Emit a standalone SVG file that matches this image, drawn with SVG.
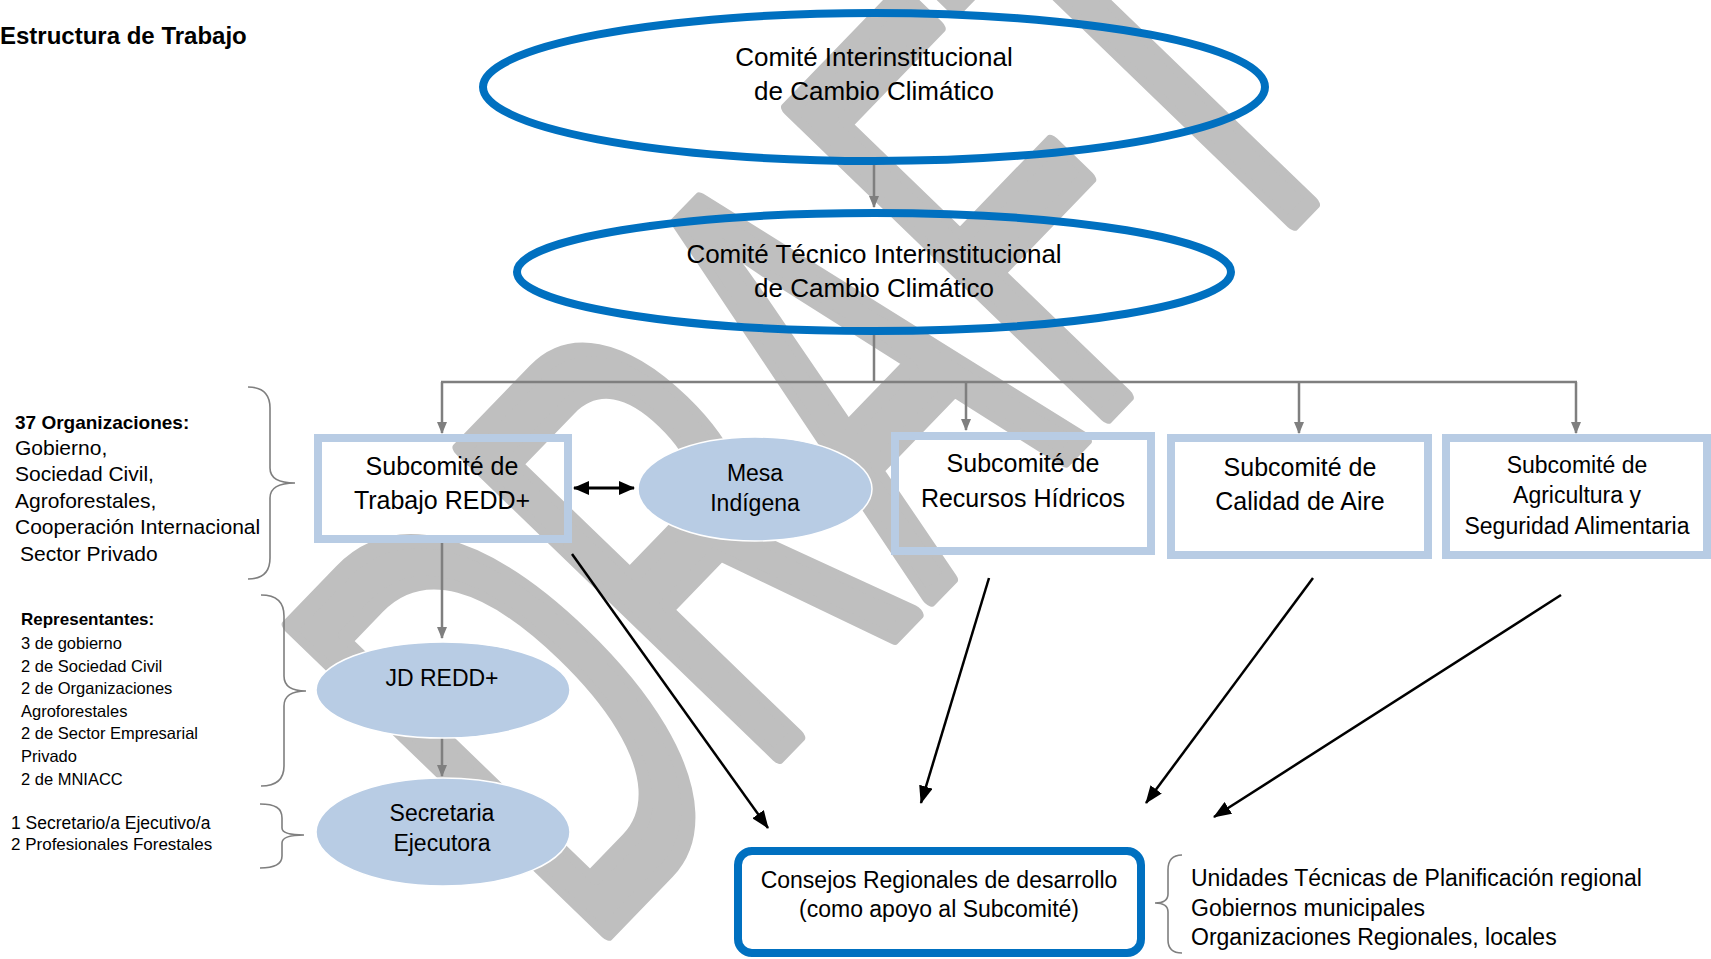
<svg xmlns="http://www.w3.org/2000/svg" width="1711" height="959" viewBox="0 0 1711 959">
<style>
.t{font-family:"Liberation Sans",Arial,sans-serif;fill:#000;dominant-baseline:central}
.c{text-anchor:middle}
.b{font-weight:bold}
.ring{fill:none;stroke:#0070C0;stroke-width:8}
.box{fill:none;stroke:#B8CCE4;stroke-width:8}
.oval{fill:#B8CCE4;stroke:#fff;stroke-width:1.5}
.g{stroke:#7F7F7F;stroke-width:2.5;fill:none}
.k{stroke:#000;stroke-width:2.5;fill:none}
.br{stroke:#7F7F7F;stroke-width:1.6;fill:none}
</style>
<defs>
<marker id="ag" markerWidth="12" markerHeight="10" refX="11" refY="5" orient="auto" markerUnits="userSpaceOnUse"><path d="M0,0 L12,5 L0,10 z" fill="#7F7F7F"/></marker>
<marker id="ak" markerWidth="18" markerHeight="14" refX="17" refY="7" orient="auto" markerUnits="userSpaceOnUse"><path d="M0,0 L18,7 L0,14 z" fill="#000"/></marker>
<marker id="ad" markerWidth="16" markerHeight="14" refX="15" refY="7" orient="auto-start-reverse" markerUnits="userSpaceOnUse"><path d="M0,0 L16,7 L0,14 z" fill="#000"/></marker>
</defs>
<rect width="1711" height="959" fill="#fff"/>
<g id="watermark">
<text x="0" y="0" transform="translate(586,954) rotate(-46) scale(0.532,1)" font-family="Liberation Sans, Arial, sans-serif" font-size="640" fill="#BFBFBF" stroke="#BFBFBF" stroke-width="14" stroke-linejoin="round" vector-effect="non-scaling-stroke">DRAFT</text>
</g>
<text class="t b" x="0" y="35" font-size="24">Estructura de Trabajo</text>
<g id="connectors">
<line class="g" x1="874" y1="165" x2="874" y2="207" marker-end="url(#ag)"/>
<polyline class="g" points="874,332 874,382"/>
<line class="g" x1="441" y1="382" x2="1577" y2="382"/>
<line class="g" x1="442" y1="382" x2="442" y2="433" marker-end="url(#ag)"/>
<line class="g" x1="966" y1="382" x2="966" y2="430" marker-end="url(#ag)"/>
<line class="g" x1="1299" y1="382" x2="1299" y2="433" marker-end="url(#ag)"/>
<line class="g" x1="1576" y1="382" x2="1576" y2="433" marker-end="url(#ag)"/>
<line class="g" x1="442" y1="543" x2="442" y2="638" marker-end="url(#ag)"/>
<line class="g" x1="442" y1="737" x2="442" y2="776" marker-end="url(#ag)"/>
<line stroke="#000" stroke-width="3" x1="574" y1="488" x2="634" y2="488" marker-start="url(#ad)" marker-end="url(#ad)"/>
<line class="k" x1="572" y1="554" x2="768" y2="828" marker-end="url(#ak)"/>
<line class="k" x1="989" y1="578" x2="921" y2="803" marker-end="url(#ak)"/>
<line class="k" x1="1313" y1="578" x2="1146" y2="803" marker-end="url(#ak)"/>
<line class="k" x1="1561" y1="595" x2="1214" y2="817" marker-end="url(#ak)"/>
</g>
<g id="cicc">
<ellipse class="ring" cx="874" cy="87" rx="391" ry="74"/>
<text class="t c" x="874" y="57" font-size="26">Comité Interinstitucional</text>
<text class="t c" x="874" y="91" font-size="26">de Cambio Climático</text>
</g>
<g id="ctcc">
<ellipse class="ring" cx="874" cy="272" rx="357" ry="59"/>
<text class="t c" x="874" y="254" font-size="26">Comité Técnico Interinstitucional</text>
<text class="t c" x="874" y="288" font-size="26">de Cambio Climático</text>
</g>
<g id="redd">
<rect class="box" x="318" y="438" width="250" height="101"/>
<text class="t c" x="442" y="466" font-size="25">Subcomité de</text>
<text class="t c" x="442" y="500" font-size="25">Trabajo REDD+</text>
</g>
<g id="mesa">
<ellipse class="oval" cx="755" cy="489" rx="117" ry="52"/>
<text class="t c" x="755" y="473" font-size="23">Mesa</text>
<text class="t c" x="755" y="503" font-size="23">Indígena</text>
</g>
<g id="recursos">
<rect class="box" x="895" y="436" width="256" height="115"/>
<text class="t c" x="1023" y="463" font-size="25">Subcomité de</text>
<text class="t c" x="1023" y="498" font-size="25">Recursos Hídricos</text>
</g>
<g id="calidad">
<rect class="box" x="1171" y="438" width="257" height="117"/>
<text class="t c" x="1300" y="467" font-size="25">Subcomité de</text>
<text class="t c" x="1300" y="501" font-size="25">Calidad de Aire</text>
</g>
<g id="agricultura">
<rect class="box" x="1446" y="438" width="261" height="117"/>
<text class="t c" x="1577" y="465" font-size="23">Subcomité de</text>
<text class="t c" x="1577" y="495" font-size="23">Agricultura y</text>
<text class="t c" x="1577" y="526" font-size="23">Seguridad Alimentaria</text>
</g>
<g id="jd">
<ellipse class="oval" cx="443" cy="690" rx="127" ry="48"/>
<text class="t c" x="442" y="678" font-size="23">JD REDD+</text>
</g>
<g id="secretaria">
<ellipse class="oval" cx="443" cy="832" rx="127" ry="54"/>
<text class="t c" x="442" y="813" font-size="23">Secretaria</text>
<text class="t c" x="442" y="843" font-size="23">Ejecutora</text>
</g>
<g id="consejos">
<rect x="738" y="851" width="403" height="102" rx="14" fill="none" stroke="#0070C0" stroke-width="8"/>
<text class="t c" x="939" y="880" font-size="23">Consejos Regionales de desarrollo</text>
<text class="t c" x="939" y="909" font-size="23">(como apoyo al Subcomité)</text>
</g>
<g id="organizaciones">
<path class="br" d="M248,387 C262,387 270,394 270,408 L270,468 C270,478 278,483 295,483 C278,483 270,488 270,498 L270,558 C270,572 262,579 248,579"/>
<text class="t b" x="15" y="422" font-size="19">37 Organizaciones:</text>
<text class="t" x="15" y="447" font-size="21">Gobierno,</text>
<text class="t" x="15" y="473" font-size="21">Sociedad Civil,</text>
<text class="t" x="15" y="500" font-size="21">Agroforestales,</text>
<text class="t" x="15" y="526" font-size="21">Cooperación Internacional</text>
<text class="t" x="20" y="553" font-size="21">Sector Privado</text>
</g>
<g id="representantes">
<path class="br" d="M261,595 C276,595 284,602 284,616 L284,676 C284,686 292,691 306,691 C292,691 284,696 284,706 L284,766 C284,780 276,786 261,786"/>
<text class="t b" x="21" y="619" font-size="17">Representantes:</text>
<text class="t" x="21" y="643" font-size="16.5">3 de gobierno</text>
<text class="t" x="21" y="666" font-size="16.5">2 de Sociedad Civil</text>
<text class="t" x="21" y="688" font-size="16.5">2 de Organizaciones</text>
<text class="t" x="21" y="711" font-size="16.5">Agroforestales</text>
<text class="t" x="21" y="733" font-size="16.5">2 de Sector Empresarial</text>
<text class="t" x="21" y="756" font-size="16.5">Privado</text>
<text class="t" x="21" y="779" font-size="16.5">2 de MNIACC</text>
</g>
<g id="secretaria-info">
<path class="br" d="M260,804 C275,804 282,808 282,818 L282,828 C282,833 290,835 304,835 C290,835 282,838 282,843 L282,856 C282,864 275,868 260,868"/>
<text class="t" x="11" y="823" font-size="17.5">1 Secretario/a Ejecutivo/a</text>
<text class="t" x="11" y="844" font-size="17">2 Profesionales Forestales</text>
</g>
<g id="consejos-info">
<path class="br" d="M1182,855 C1173,855 1168,860 1168,870 L1168,894 C1168,900 1163,903 1155,903 C1163,903 1168,906 1168,912 L1168,940 C1168,949 1173,953 1182,953"/>
<text class="t" x="1191" y="878" font-size="23">Unidades Técnicas de Planificación regional</text>
<text class="t" x="1191" y="908" font-size="23">Gobiernos municipales</text>
<text class="t" x="1191" y="937" font-size="23">Organizaciones Regionales, locales</text>
</g>
</svg>
